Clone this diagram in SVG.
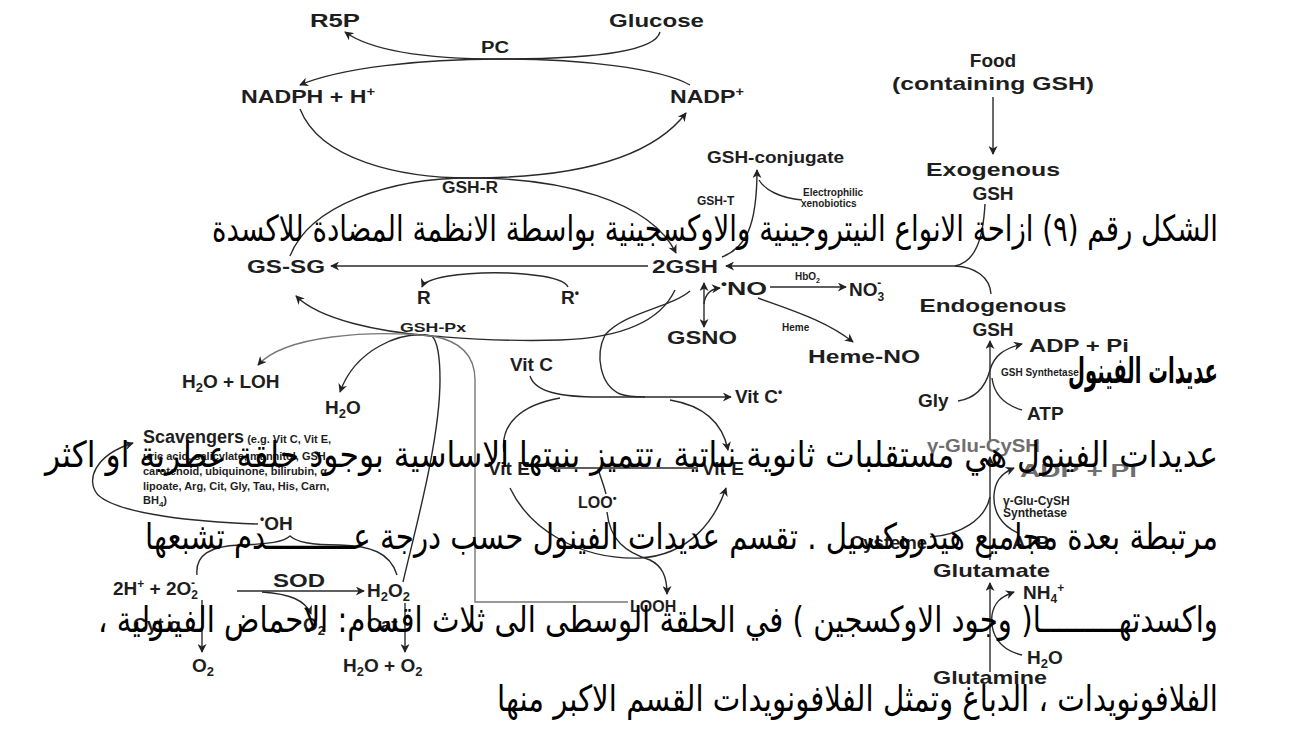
<svg xmlns="http://www.w3.org/2000/svg" width="1296" height="731" viewBox="0 0 1296 731">
<defs>
<marker id="ah" viewBox="0 0 10 10" refX="9" refY="5" markerWidth="10" markerHeight="9" orient="auto-start-reverse" markerUnits="userSpaceOnUse">
<path d="M0,0 L10,5 L0,10 L3,5 z" fill="#222"/>
</marker>
<style>
.t{font-family:"Liberation Sans",Arial,sans-serif;font-weight:bold;fill:#1e1e1e}
.L{font-size:19px}
.M{font-size:16px}
.S{font-size:12px}
.X{font-size:10px}
.g{fill:#6e6e6e}
.c{stroke:#2a2a2a;stroke-width:1.4;fill:none}
.cg{stroke:#777;stroke-width:1.4;fill:none}
.a{marker-end:url(#ah)}
.ar{font-family:"DejaVu Sans",sans-serif;font-size:36px;fill:#000;direction:rtl}
</style>
</defs>
<rect width="1296" height="731" fill="#fff"/>

<g id="connectors">
<path class="c a" d="M660,32 C655,52 590,59 500,59 C420,59 370,50 345,32"/>
<path class="c a" d="M690,85 C660,68 580,59 500,59 C420,59 340,68 300,85"/>
<path class="c a" d="M300,109 C320,160 400,178 470,178 C570,178 650,160 686,113"/>
<path class="c a" d="M290,256 C310,205 390,178 470,178 C560,178 650,200 676,253"/>
<path class="c a" d="M993,97 L993,154"/>
<path class="c a" d="M722,257 C745,248 757,228 757,170"/>
<path class="c" d="M802,200 C780,198 765,190 759,180"/>
<path class="c a" d="M648,266 L331,266"/>
<path class="c a" d="M955,266 L726,266"/>
<path class="c" d="M985,204 C983,240 975,262 955,266"/>
<path class="c" d="M991,294 C990,277 975,267 955,266"/>
<path class="c a" d="M568,287 C560,268 430,268 422,287"/>
<path class="c" d="M704,283 L704,327" marker-start="url(#ah)" marker-end="url(#ah)"/>
<path class="c a" d="M704,304 C705,294 710,289 720,288"/>
<path class="c a" d="M770,287 L846,287"/>
<path class="c a" d="M758,298 C790,310 825,320 853,342"/>
<path class="c a" d="M675,290 C660,322 620,338 560,340 C500,342 460,338 432,336 C380,332 320,320 296,296"/>
<path class="c a" d="M403,582 C415,530 440,440 440,380 C440,350 436,340 432,336 C400,330 355,350 340,392"/>
<path class="cg a" d="M628,602 L475,602 L475,380 C475,352 455,340 432,336 C370,330 285,335 258,365"/>
<path class="c" d="M690,291 C670,308 625,312 605,335 C595,355 600,385 620,394 C628,397 635,397 645,397"/>
<path class="c a" d="M530,376 C535,392 560,397 600,397 L731,397"/>
<path class="c" d="M504,452 C500,425 520,405 560,398"/>
<path class="c a" d="M670,400 C700,405 722,420 728,450"/>
<path class="c a" d="M698,468 L550,468"/>
<path class="c" d="M598,469 C601,478 604,486 606,494"/>
<path class="c a" d="M510,488 C530,530 580,560 640,558 C690,555 715,520 726,488"/>
<path class="c a" d="M607,512 C610,540 625,552 650,560 C662,566 667,576 667,594"/>
<path class="c a" d="M258,524 C200,522 120,515 98,495 C85,480 95,455 133,443"/>
<path class="c" d="M197,575 C195,555 210,546 240,545 C270,544 283,542 290,536 C297,542 310,545 340,545 C370,546 390,552 397,575"/>
<path class="c a" d="M237,591 L364,591"/>
<path class="c a" d="M262,592 C290,594 305,600 311,614"/>
<path class="c a" d="M202,600 L202,652"/>
<path class="c a" d="M405,603 L405,652"/>
<path class="c a" d="M990,672 L990,583"/>
<path class="c a" d="M1022,655 C1000,650 990,635 992,615 C994,603 1000,597 1014,592"/>
<path class="c a" d="M990,560 L990,457"/>
<path class="c" d="M930,537 C960,535 985,520 990,497"/>
<path class="c a" d="M1018,533 C1000,525 993,510 994,495 C995,482 1000,474 1014,468"/>
<path class="c a" d="M990,440 L990,341"/>
<path class="c a" d="M958,401 C978,398 986,385 990,370 C994,356 1003,349 1022,344"/>
<path class="c" d="M1022,410 C1005,405 994,395 992,378"/>
</g>

<g id="n-r5p"><text class="t L" x="310" y="27" textLength="50" lengthAdjust="spacingAndGlyphs">R5P</text></g>
<g id="n-glucose"><text class="t L" x="609" y="27" textLength="95" lengthAdjust="spacingAndGlyphs">Glucose</text></g>
<g id="n-pc"><text class="t M" x="481" y="53" textLength="28" lengthAdjust="spacingAndGlyphs">PC</text></g>
<g id="n-nadph"><text class="t L" x="241" y="103" textLength="134" lengthAdjust="spacingAndGlyphs">NADPH + H<tspan font-size="12" dy="-7">+</tspan></text></g>
<g id="n-nadp"><text class="t L" x="670" y="103" textLength="74" lengthAdjust="spacingAndGlyphs">NADP<tspan font-size="12" dy="-7">+</tspan></text></g>
<g id="n-food"><text class="t L" x="993" y="67" text-anchor="middle">Food</text><text class="t L" x="993" y="90" text-anchor="middle" textLength="202" lengthAdjust="spacingAndGlyphs">(containing GSH)</text></g>
<g id="n-conj"><text class="t M" x="707" y="163" textLength="137" lengthAdjust="spacingAndGlyphs">GSH-conjugate</text></g>
<g id="n-exo"><text class="t L" x="993" y="176" text-anchor="middle" textLength="134" lengthAdjust="spacingAndGlyphs">Exogenous</text><text class="t L" x="993" y="200" text-anchor="middle">GSH</text></g>
<g id="n-gshr"><text class="t M" x="470" y="193" text-anchor="middle" textLength="56" lengthAdjust="spacingAndGlyphs">GSH-R</text></g>
<g id="n-gsht"><text class="t S" x="697" y="205">GSH-T</text></g>
<g id="n-electro"><text class="t X" x="803" y="196">Electrophilic</text><text class="t X" x="801" y="207">xenobiotics</text></g>
<g id="n-gssg"><text class="t L" x="247" y="273" textLength="78" lengthAdjust="spacingAndGlyphs">GS-SG</text></g>
<g id="n-2gsh"><text class="t L" x="652" y="273" textLength="66" lengthAdjust="spacingAndGlyphs">2GSH</text></g>
<g id="n-r"><text class="t L" x="417" y="304">R</text></g>
<g id="n-rdot"><text class="t L" x="561" y="304">R<tspan font-size="12" dy="-7">•</tspan></text></g>
<g id="n-no"><text class="t L" x="721" y="295" textLength="46" lengthAdjust="spacingAndGlyphs"><tspan font-size="12" dy="-7">•</tspan><tspan dy="7">NO</tspan></text></g>
<g id="n-hbo2"><text class="t X" x="795" y="280">HbO<tspan font-size="7" dy="3">2</tspan></text></g>
<g id="n-no3"><text class="t L" x="849" y="296">NO<tspan font-size="12" dy="5">3</tspan><tspan font-size="12" dx="-7" dy="-14">-</tspan></text></g>
<g id="n-endo"><text class="t L" x="993" y="312" text-anchor="middle" textLength="147" lengthAdjust="spacingAndGlyphs">Endogenous</text><text class="t L" x="993" y="336" text-anchor="middle">GSH</text></g>
<g id="n-gsno"><text class="t L" x="667" y="344" textLength="70" lengthAdjust="spacingAndGlyphs">GSNO</text></g>
<g id="n-heme"><text class="t X" x="782" y="331">Heme</text></g>
<g id="n-hemeno"><text class="t L" x="808" y="363" textLength="112" lengthAdjust="spacingAndGlyphs">Heme-NO</text></g>
<g id="n-gshpx"><text class="t S" x="400" y="332" textLength="66" lengthAdjust="spacingAndGlyphs">GSH-Px</text></g>
<g id="n-adp1"><text class="t L" x="1029" y="352" textLength="100" lengthAdjust="spacingAndGlyphs">ADP + Pi</text></g>
<g id="n-h2oloh"><text class="t L" x="182" y="388">H<tspan font-size="13" dy="4">2</tspan><tspan dy="-4">O + LOH</tspan></text></g>
<g id="n-h2o1"><text class="t L" x="325" y="414">H<tspan font-size="13" dy="4">2</tspan><tspan dy="-4">O</tspan></text></g>
<g id="n-vitc"><text class="t L" x="510" y="371">Vit C</text></g>
<g id="n-vitcdot"><text class="t L" x="735" y="403">Vit C<tspan font-size="12" dy="-7">•</tspan></text></g>
<g id="n-gshsyn"><text class="t X" x="1001" y="376">GSH Synthetase</text></g>
<g id="n-gly"><text class="t L" x="918" y="407">Gly</text></g>
<g id="n-atp1"><text class="t L" x="1027" y="420">ATP</text></g>
<g id="n-scav">
<text class="t" x="143" y="443"><tspan font-size="18">Scavengers</tspan><tspan font-size="11"> (e.g. Vit C, Vit E,</tspan></text>
<text class="t" font-size="11" x="143" y="460">uric acid, salicylate, mannitol, GSH,</text>
<text class="t" font-size="11" x="143" y="475">carotenoid, ubiquinone, bilirubin, α-</text>
<text class="t" font-size="11" x="143" y="490">lipoate, Arg, Cit, Gly, Tau, His, Carn,</text>
<text class="t" font-size="11" x="143" y="504">BH<tspan font-size="8" dy="3">4</tspan><tspan dy="-3">)</tspan></text>
</g>
<g id="n-glucysh1"><text class="t L g" x="927" y="452" textLength="113" lengthAdjust="spacingAndGlyphs">γ-Glu-CySH</text></g>
<g id="n-adp2"><text class="t L g" x="1020" y="477" textLength="117" lengthAdjust="spacingAndGlyphs">ADP + Pi</text></g>
<g id="n-vite1"><text class="t L" x="488" y="475">Vit E<tspan font-size="12" dy="-7">•</tspan></text></g>
<g id="n-vite2"><text class="t L" x="702" y="475">Vit E</text></g>
<g id="n-loo"><text class="t M" x="578" y="508">LOO<tspan font-size="11" dy="-6">•</tspan></text></g>
<g id="n-glusyn"><text class="t S" x="1003" y="505">γ-Glu-CySH</text><text class="t S" x="1003" y="517">Synthetase</text></g>
<g id="n-cys"><text class="t L" x="850" y="549" textLength="77" lengthAdjust="spacingAndGlyphs">Cysteine</text></g>
<g id="n-atp2"><text class="t L" x="1012" y="549">ATP</text></g>
<g id="n-oh"><text class="t L" x="260" y="530"><tspan font-size="12" dy="-7">•</tspan><tspan dy="7">OH</tspan></text></g>
<g id="n-glutamate"><text class="t L" x="933" y="577" textLength="117" lengthAdjust="spacingAndGlyphs">Glutamate</text></g>
<g id="n-nh4"><text class="t L" x="1023" y="599">NH<tspan font-size="12" dy="4">4</tspan><tspan font-size="12" dy="-11">+</tspan></text></g>
<g id="n-2h"><text class="t L" x="113" y="595">2H<tspan font-size="12" dy="-7">+</tspan><tspan dy="7"> + 2O</tspan><tspan font-size="12" dy="4">2</tspan><tspan font-size="12" dx="-7" dy="-12">-</tspan></text></g>
<g id="n-sod"><text class="t L" x="273" y="587" textLength="52" lengthAdjust="spacingAndGlyphs">SOD</text></g>
<g id="n-h2o2"><text class="t L" x="367" y="597">H<tspan font-size="13" dy="4">2</tspan><tspan dy="-4">O</tspan><tspan font-size="13" dy="4">2</tspan></text></g>
<g id="n-looh"><text class="t M" x="630" y="612">LOOH</text></g>
<g id="n-cytc"><text class="t L" x="133" y="631">Cyt c</text></g>
<g id="n-o2a"><text class="t L" x="303" y="631">O<tspan font-size="13" dy="4">2</tspan></text></g>
<g id="n-cat"><text class="t L" x="367" y="631">Cat</text></g>
<g id="n-h2o2b"><text class="t L" x="1027" y="664">H<tspan font-size="13" dy="4">2</tspan><tspan dy="-4">O</tspan></text></g>
<g id="n-glutamine"><text class="t L" x="933" y="684" textLength="114" lengthAdjust="spacingAndGlyphs">Glutamine</text></g>
<g id="n-o2b"><text class="t L" x="192" y="672">O<tspan font-size="13" dy="4">2</tspan></text></g>
<g id="n-h2oo2"><text class="t L" x="343" y="672">H<tspan font-size="13" dy="4">2</tspan><tspan dy="-4">O + O</tspan><tspan font-size="13" dy="4">2</tspan></text></g>

<g id="arabic">
<text class="ar" x="1218" y="241" textLength="1006" lengthAdjust="spacingAndGlyphs">الشكل رقم (٩) ازاحة الانواع النيتروجينية والاوكسجينية بواسطة الانظمة المضادة للاكسدة</text>
<text class="ar" x="1218" y="383" font-weight="bold" font-size="38" textLength="150" lengthAdjust="spacingAndGlyphs">عديدات الفينول</text>
<text class="ar" x="1218" y="467" textLength="1173" lengthAdjust="spacingAndGlyphs">عديدات الفينول هي مستقلبات ثانوية نباتية ،تتميز بنيتها الاساسية بوجود حلقة عطرية او اكثر</text>
<text class="ar" x="1218" y="549" textLength="1073" lengthAdjust="spacingAndGlyphs">مرتبطة بعدة مجاميع هيدروكسيل . تقسم عديدات الفينول حسب درجة عــــــــــدم تشبعها</text>
<text class="ar" x="1218" y="632" textLength="1120" lengthAdjust="spacingAndGlyphs">واكسدتهـــــــــا( وجود الاوكسجين ) في الحلقة الوسطى الى ثلاث اقسام: الاحماض الفينولية ،</text>
<text class="ar" x="1218" y="711" textLength="721" lengthAdjust="spacingAndGlyphs">الفلافونويدات ، الدباغ وتمثل الفلافونويدات القسم الاكبر منها</text>
</g>
</svg>
